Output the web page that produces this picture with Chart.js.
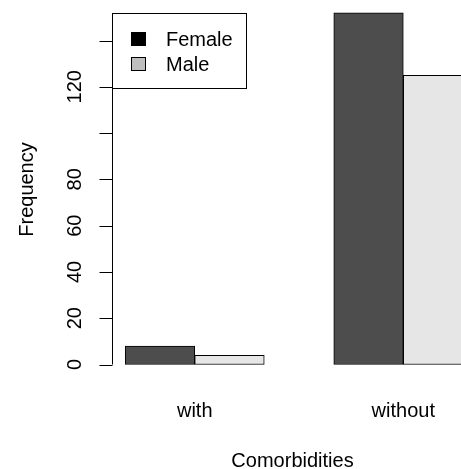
<!DOCTYPE html>
<html>
<head>
<meta charset="utf-8">
<script src="https://cdn.jsdelivr.net/npm/chart.js@4.4.0/dist/chart.umd.min.js"></script>
<style>
html,body{margin:0;padding:0;background:#fff;overflow:hidden}
#wrap{width:461px;height:469px;position:relative}
</style>
</head>
<body>
<div id="wrap"><canvas id="c" width="461" height="469"></canvas></div>
<script>
// ---- data ----
const categories = ["with", "without"];
const seriesNames = ["Female", "Male"];
const femaleValues = [8, 152];
const maleValues = [4, 125];
const yTickValues = [0, 20, 40, 60, 80, 100, 120, 140];
const yTickLabels = ["0", "20", "40", "60", "80", "", "120", ""];
const xTitle = "Comorbidities";
const yTitle = "Frequency";

// ---- styles ----
const FONT = '20px "Liberation Sans", Arial, Helvetica, sans-serif';
const barColors = ["#4d4d4d", "#e6e6e6"];
const legendColors = ["#000000", "#bebebe"];

function groupCenter(i) { return 2 + 3 * i; }

const axisPlugin = {
  id: 'rAxes',
  afterDraw(chart) {
    const ctx = chart.ctx;
    const y = chart.scales.y;
    const ca = chart.chartArea;
    ctx.save();
    ctx.strokeStyle = '#000';
    ctx.fillStyle = '#000';
    ctx.lineWidth = 1;
    // y axis line
    const ax = Math.round(ca.left) + 0.5;
    const y0 = y.getPixelForValue(yTickValues[0]);
    const y1 = y.getPixelForValue(yTickValues[yTickValues.length - 1]);
    ctx.beginPath();
    ctx.moveTo(ax, y0);
    ctx.lineTo(ax, y1);
    ctx.stroke();
    // ticks + labels
    ctx.font = FONT;
    ctx.textAlign = 'center';
    ctx.textBaseline = 'alphabetic';
    yTickValues.forEach((v, i) => {
      const py = Math.round(y.getPixelForValue(v)) + 0.5;
      ctx.beginPath();
      ctx.moveTo(ax, py);
      ctx.lineTo(ax - 13, py);
      ctx.stroke();
      if (yTickLabels[i]) {
        ctx.save();
        ctx.translate(ax - 32, y.getPixelForValue(v));
        ctx.rotate(-Math.PI / 2);
        ctx.fillText(yTickLabels[i], 0, 0);
        ctx.restore();
      }
    });
    // y title
    ctx.save();
    ctx.translate(33, (ca.top + ca.bottom) / 2);
    ctx.rotate(-Math.PI / 2);
    ctx.fillText(yTitle, 0, 0);
    ctx.restore();
    // x title
    ctx.fillText(xTitle, 292.5, 467);

    // legend
    const lx = 112.5, ly = 13.5, lw = 134, lh = 75;
    ctx.fillStyle = '#fff';
    ctx.fillRect(lx, ly, lw, lh);
    ctx.strokeRect(lx, ly, lw, lh);
    ctx.textAlign = 'left';
    seriesNames.forEach((name, i) => {
      const sy = 32 + 25 * i;
      ctx.fillStyle = legendColors[i];
      ctx.fillRect(131.5, sy + 0.5, 14, 13);
      ctx.strokeRect(131.5, sy + 0.5, 14, 13);
      ctx.fillStyle = '#000';
      ctx.fillText(name, 166, sy + 14);
    });
    ctx.restore();
  }
};

new Chart(document.getElementById('c'), {
  type: 'bar',
  data: {
    datasets: [
      {
        label: seriesNames[0],
        data: categories.map((c, i) => ({ x: groupCenter(i) - 0.5, y: femaleValues[i] })),
        backgroundColor: barColors[0]
      },
      {
        label: seriesNames[1],
        data: categories.map((c, i) => ({ x: groupCenter(i) + 0.5, y: maleValues[i] })),
        backgroundColor: barColors[1]
      }
    ]
  },
  options: {
    responsive: false,
    devicePixelRatio: 1,
    animation: false,
    datasets: { bar: { borderColor: '#000', borderWidth: 1, borderSkipped: false, grouped: false, barPercentage: 1, categoryPercentage: 1 } },
    layout: { padding: { left: 112, right: 0, top: 0, bottom: 0 } },
    plugins: { legend: { display: false }, tooltip: { enabled: false } },
    scales: {
      x: {
        type: 'linear',
        bounds: 'data',
        offset: false,
        min: 0.81,
        max: 5.83,
        grid: { display: false, drawTicks: false, offset: false },
        border: { display: false },
        ticks: {
          font: { family: '"Liberation Sans", Arial, sans-serif', size: 20 },
          color: '#000',
          padding: 20,
          autoSkip: false,
          maxRotation: 0,
          minRotation: 0,
          callback: (v, i) => categories[i]
        },
        afterBuildTicks: s => { s.ticks = categories.map((c, i) => ({ value: groupCenter(i) })); },
        afterFit: s => { s.height = 90; }
      },
      y: {
        type: 'linear',
        display: false,
        min: -6.26,
        max: 157.5
      }
    }
  },
  plugins: [axisPlugin]
});
</script>
</body>
</html>
